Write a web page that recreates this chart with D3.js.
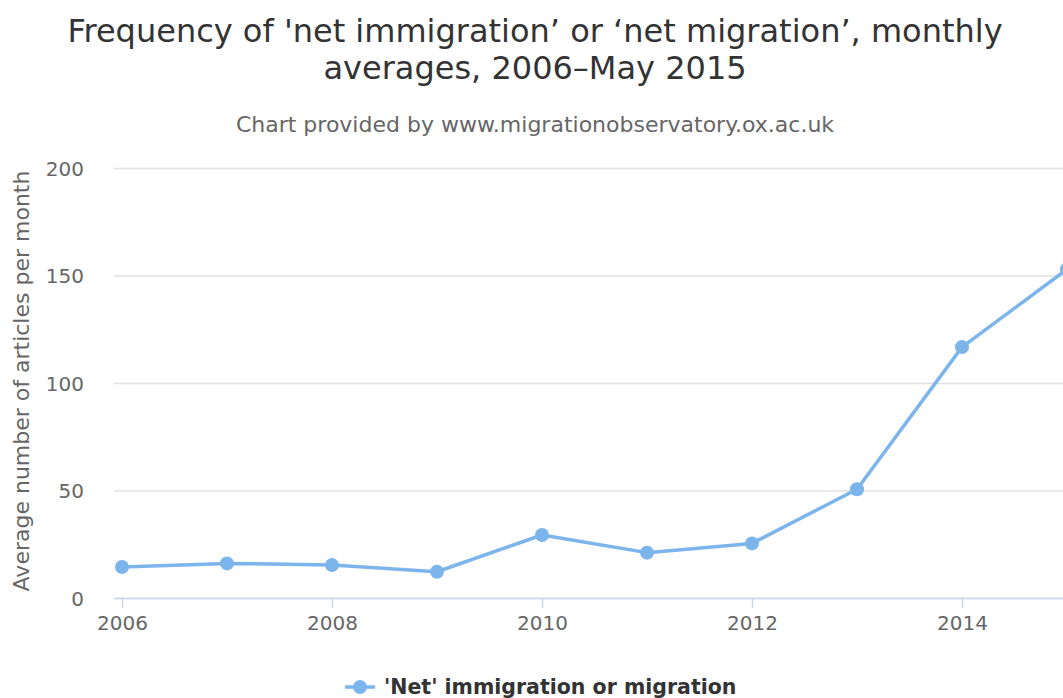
<!DOCTYPE html>
<html>
<head>
<meta charset="utf-8">
<script src="https://cdn.jsdelivr.net/npm/d3@7"></script>
<style>
  html, body { margin: 0; padding: 0; background: #fff; }
  svg { display: block; font-family: "DejaVu Sans", sans-serif; }
</style>
</head>
<body>
<svg id="chart" width="1063" height="698"></svg>
<script>
// Yearly monthly-average article counts
const years = [2006, 2007, 2008, 2009, 2010, 2011, 2012, 2013, 2014, 2015];
const articles = [14.4, 16.1, 15.3, 12.2, 29.3, 21.1, 25.4, 50.6, 116.7, 152.9];
const yTicks = [0, 50, 100, 150, 200];
const xTicks = [2006, 2008, 2010, 2012, 2014];
const seriesName = "'Net' immigration or migration";

const svg = d3.select("#chart");
const plot = { left: 114, right: 1075, top: 168, bottom: 598 };

const x = d3.scaleLinear().domain([2006, 2014]).range([122, 962]);
const y = d3.scaleLinear().domain([0, 200]).range([plot.bottom, plot.top]);

// Titles
const title = svg.append("text").attr("text-anchor", "middle").attr("fill", "#333")
  .style("font-size", "32px");
title.append("tspan").attr("x", 535).attr("y", 42)
  .text("Frequency of 'net immigration\u2019 or \u2018net migration\u2019, monthly");
title.append("tspan").attr("x", 535).attr("y", 79).text("averages, 2006\u2013May 2015");

svg.append("text").attr("x", 535).attr("y", 132).attr("text-anchor", "middle")
  .attr("fill", "#666").style("font-size", "22px")
  .text("Chart provided by www.migrationobservatory.ox.ac.uk");

// Gridlines
svg.append("g").selectAll("line").data(yTicks).join("line")
  .attr("x1", plot.left).attr("x2", plot.right)
  .attr("y1", d => y(d) + 0.5).attr("y2", d => y(d) + 0.5)
  .attr("stroke", "#e0e0e0").attr("stroke-width", 1.5);

// Y axis labels
const yAxis = d3.axisLeft(y).tickValues(yTicks).tickSize(0).tickPadding(0);
const gy = svg.append("g").attr("transform", `translate(84,0)`).call(yAxis);
gy.select(".domain").remove();
gy.selectAll("text").attr("fill", "#666").style("font-size", "20px")
  .style("font-family", "DejaVu Sans, sans-serif").attr("dy", "0.35em");

// X axis
svg.append("line").attr("x1", plot.left).attr("x2", plot.right)
  .attr("y1", plot.bottom + 0.5).attr("y2", plot.bottom + 0.5)
  .attr("stroke", "#ccd6eb").attr("stroke-width", 1.5);
const xAxis = d3.axisBottom(x).tickValues(xTicks).tickFormat(d3.format("d"))
  .tickSize(10).tickPadding(8);
const gx = svg.append("g").attr("transform", `translate(0,${plot.bottom})`).call(xAxis);
gx.select(".domain").remove();
gx.selectAll(".tick line").attr("stroke", "#ccd6eb").attr("stroke-width", 1.5);
gx.selectAll("text").attr("fill", "#666").style("font-size", "20px")
  .style("font-family", "DejaVu Sans, sans-serif");

// Y axis title
svg.append("text")
  .attr("transform", `translate(29,381) rotate(-90)`)
  .attr("text-anchor", "middle").attr("fill", "#666").style("font-size", "22px")
  .text("Average number of articles per month");

// Series
const data = years.map((yr, i) => ({ yr, v: articles[i] }));
const color = "#7cb5ec";
svg.append("path").datum(data)
  .attr("d", d3.line().x(d => x(d.yr)).y(d => y(d.v)))
  .attr("fill", "none").attr("stroke", color).attr("stroke-width", 3.5)
  .attr("stroke-linejoin", "round");
svg.append("g").selectAll("circle").data(data).join("circle")
  .attr("cx", d => x(d.yr)).attr("cy", d => y(d.v)).attr("r", 7)
  .attr("fill", color);

// Legend
const lg = svg.append("g").attr("transform", "translate(345,687)");
lg.append("line").attr("x1", 0).attr("x2", 30).attr("y1", 0).attr("y2", 0)
  .attr("stroke", color).attr("stroke-width", 3.5);
lg.append("circle").attr("cx", 15).attr("cy", 0).attr("r", 7).attr("fill", color);
lg.append("text").attr("x", 39).attr("y", 7).attr("fill", "#333")
  .style("font-size", "20.5px").style("font-weight", "bold").text(seriesName);
</script>
</body>
</html>
